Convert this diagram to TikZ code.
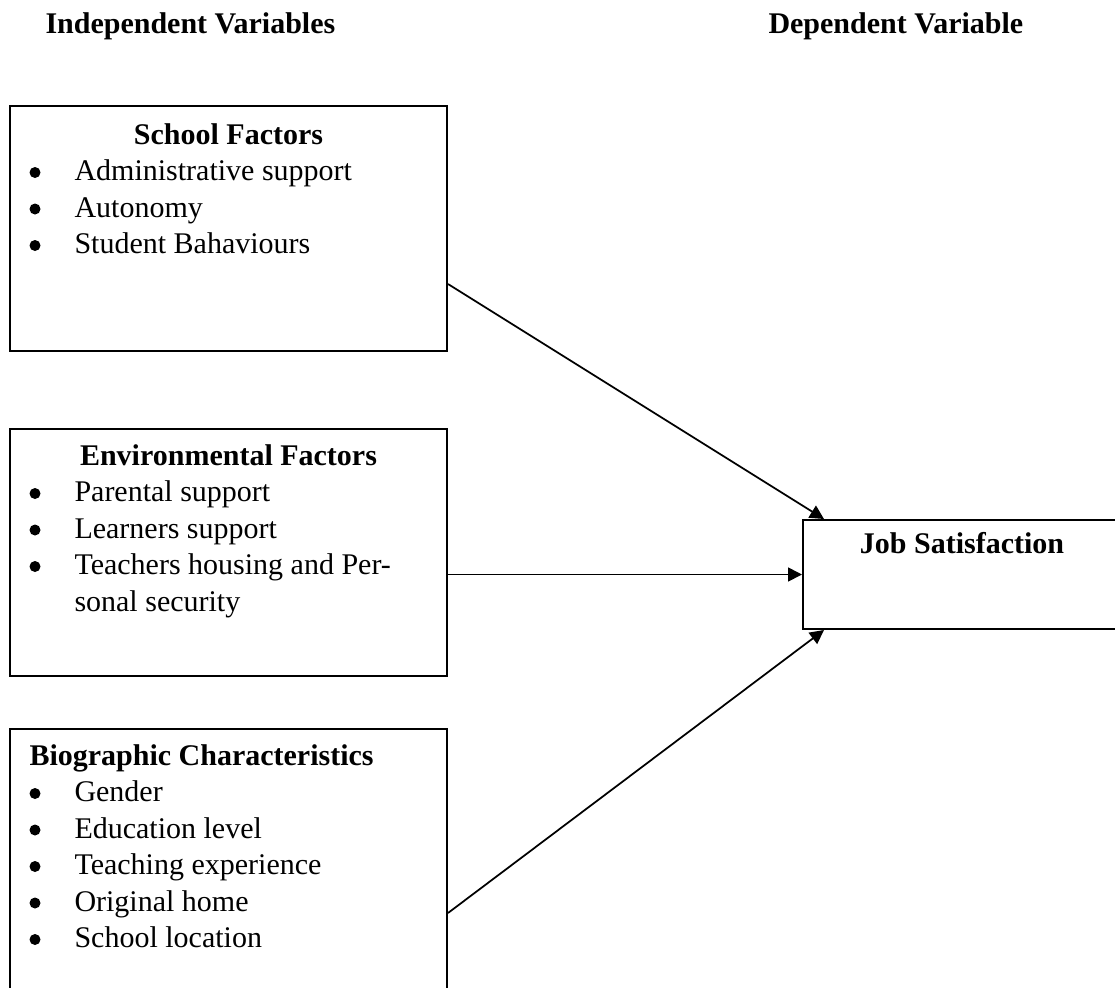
\documentclass[tikz,border=0pt,12pt]{standalone}
\usepackage{fontspec}
\setmainfont{Liberation Serif}
\usetikzlibrary{positioning,calc,fit,arrows.meta}

\begin{document}
\begin{tikzpicture}[x=0.4pt,y=-0.4pt,
  box/.style={draw,line width=0.8pt,inner sep=0pt},
  ttl/.style={font=\bfseries,inner sep=0pt,anchor=base},
  itm/.style={inner sep=0pt,anchor=base west},
  ele/.style={fill=black,circle,inner sep=0pt,minimum size=4.4pt},
  >={Triangle[length=5.6pt,width=5.6pt]}]
  \useasboundingbox (0,0) rectangle (1115,988);
  \clip (0,0) rectangle (1115,988);

  \node[ttl,anchor=base west] (indep) at (45,33) {Independent Variables};
  \node[ttl,anchor=base west] (dep) at (768,33) {Dependent Variable};

  \node[box,fit={(10,106) (447,351)}] (school) {};
  \node[box,fit={(10,429) (447,676)}] (env) {};
  \node[box,fit={(10,729) (447,1000)}] (bio) {};
  \node[box,fit={(803,520) (1121,629)}] (job) {};

  \node[ttl] (schoolttl) at (228.5,144) {School Factors};
  \foreach \t [count=\i] in {Administrative support,Autonomy,Student Bahaviours}{
    \node[ele] (sb\i) at ({35},{136+36.5*\i}) {};
    \node[itm] (s\i) at ({74},{144+36.5*\i}) {\t};
  }

  \node[ttl] (envttl) at (228.5,465) {Environmental Factors};
  \foreach \t [count=\i] in {Parental support,Learners support,Teachers housing and Per-}{
    \node[ele] (eb\i) at ({35},{457+36.5*\i}) {};
    \node[itm] (e\i) at ({74},{465+36.5*\i}) {\t};
  }
  \node[itm] (e4) at (74,611) {sonal security};

  \node[ttl,anchor=base west] (biottl) at (29,765) {Biographic Characteristics};
  \foreach \t [count=\i] in {Gender,Education level,Teaching experience,Original home,School location}{
    \node[ele] (bb\i) at ({35},{757+36.5*\i}) {};
    \node[itm] (b\i) at ({74},{765+36.5*\i}) {\t};
  }

  \node[ttl] (jobttl) at (962,553) {Job Satisfaction};

  \draw[->,line width=0.7pt] ($(school.north east)+(0,179)$) -- ($(job.north west)+(22,0)$);
  \draw[->,line width=0.7pt] (env.east |- job.west) -- (job.west);
  \draw[->,line width=0.7pt] ($(bio.north east)+(0,185)$) -- ($(job.south west)+(22,0)$);
\end{tikzpicture}
\end{document}
